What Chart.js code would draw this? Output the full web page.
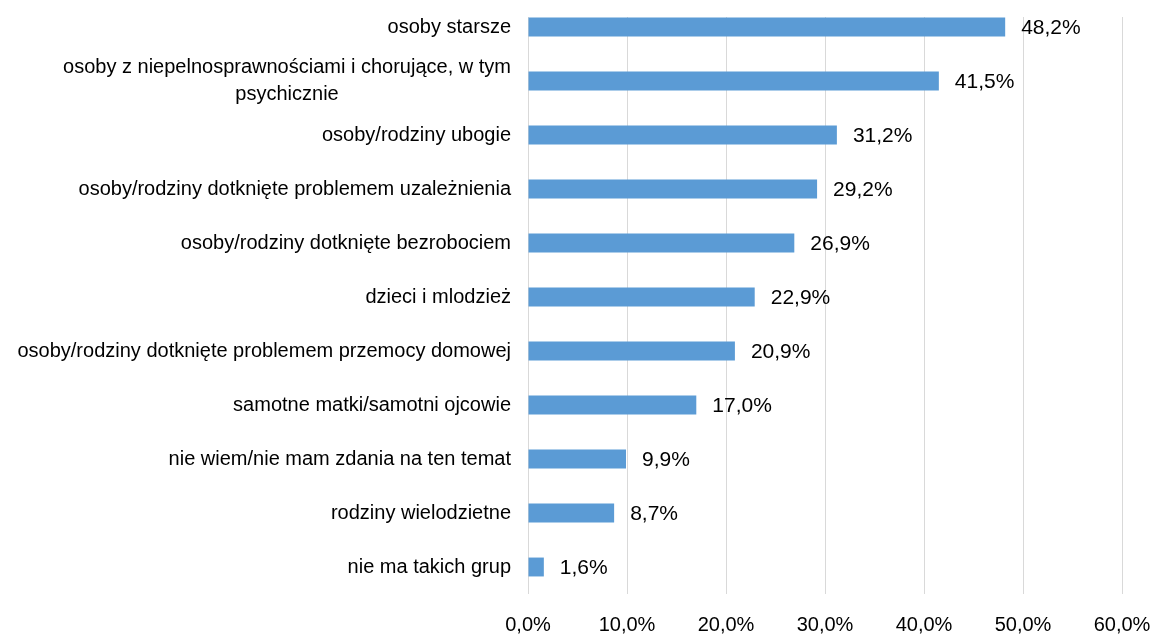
<!DOCTYPE html>
<html>
<head>
<meta charset="utf-8">
<script src="https://cdn.jsdelivr.net/npm/chart.js@4"></script>
<style>
    html, body { margin: 0; padding: 0; background: #fff; }
    #wrap { width: 1154px; height: 635px; position: relative; }
</style>
</head>
<body>
<div id="wrap"><canvas id="myChart"></canvas></div>
<script>
const categories = [
    'osoby starsze',
    ['osoby z niepelnosprawnościami i chorujące, w tym', 'psychicznie'],
    'osoby/rodziny ubogie',
    'osoby/rodziny dotknięte problemem uzależnienia',
    'osoby/rodziny dotknięte bezrobociem',
    'dzieci i mlodzież',
    'osoby/rodziny dotknięte problemem przemocy domowej',
    'samotne matki/samotni ojcowie',
    'nie wiem/nie mam zdania na ten temat',
    'rodziny wielodzietne',
    'nie ma takich grup'
];
const values = [48.2, 41.5, 31.2, 29.2, 26.9, 22.9, 20.9, 17.0, 9.9, 8.7, 1.6];
const xTicks = [0, 10, 20, 30, 40, 50, 60];

const fontFamily = "'Liberation Sans', Arial, sans-serif";
const textColor = '#000000';

function pct(v) {
    return v.toFixed(1).replace('.', ',') + '%';
}

// category labels: block right-aligned, wrapped lines centred like Excel
const categoryLabels = {
    id: 'categoryLabels',
    afterDraw(chart) {
        const ctx = chart.ctx;
        const yScale = chart.scales.y;
        const right = chart.chartArea.left - 17;
        ctx.save();
        ctx.font = '20px ' + fontFamily;
        ctx.fillStyle = textColor;
        ctx.textBaseline = 'middle';
        ctx.textAlign = 'center';
        categories.forEach((label, i) => {
            const lines = Array.isArray(label) ? label : [label];
            const w = Math.max(...lines.map(l => ctx.measureText(l).width));
            const y = yScale.getPixelForTick(i);
            const lh = 27;
            const y0 = y - (lines.length - 1) * lh / 2;
            lines.forEach((l, j) => {
                ctx.fillText(l, right - w / 2, y0 + j * lh);
            });
        });
        ctx.restore();
    }
};

// value labels right of each bar
const valueLabels = {
    id: 'valueLabels',
    afterDatasetsDraw(chart) {
        const ctx = chart.ctx;
        const meta = chart.getDatasetMeta(0);
        ctx.save();
        ctx.font = '21px ' + fontFamily;
        ctx.fillStyle = textColor;
        ctx.textBaseline = 'middle';
        ctx.textAlign = 'left';
        meta.data.forEach((bar, i) => {
            ctx.fillText(pct(values[i]), bar.x + 16, bar.y + 1);
        });
        ctx.restore();
    }
};

// gridlines in the reference start a little below the top edge
const gridTop = {
    id: 'gridTop',
    beforeDatasetsDraw(chart) {
        const a = chart.chartArea;
        chart.ctx.save();
        chart.ctx.fillStyle = '#ffffff';
        chart.ctx.fillRect(a.left - 2, 0, a.right - a.left + 4, 17);
        chart.ctx.restore();
    }
};

new Chart(document.getElementById('myChart'), {
    type: 'bar',
    data: {
        labels: categories,
        datasets: [{
            data: values,
            backgroundColor: '#5B9BD5',
            borderWidth: 0,
            categoryPercentage: 1,
            barPercentage: 0.35
        }]
    },
    options: {
        indexAxis: 'y',
        responsive: true,
        maintainAspectRatio: false,
        animation: false,
        layout: { padding: { left: 0, right: 32, top: 0, bottom: 0 } },
        plugins: {
            legend: { display: false },
            tooltip: { enabled: false }
        },
        scales: {
            x: {
                min: 0,
                max: 60,
                afterBuildTicks(scale) {
                    scale.ticks = xTicks.map(v => ({ value: v }));
                },
                afterFit(scale) {
                    scale.height = 41;
                    scale.paddingLeft = 0;
                    scale.paddingRight = 0;
                },
                grid: { color: '#D9D9D9', lineWidth: 1, drawTicks: false },
                border: { display: false },
                ticks: {
                    padding: 19,
                    color: textColor,
                    font: { family: fontFamily, size: 20 },
                    callback: v => pct(v)
                }
            },
            y: {
                afterFit(scale) { scale.width = 528; },
                grid: { display: false },
                border: { display: false },
                ticks: { display: false }
            }
        }
    },
    plugins: [gridTop, valueLabels, categoryLabels]
});
</script>
</body>
</html>
